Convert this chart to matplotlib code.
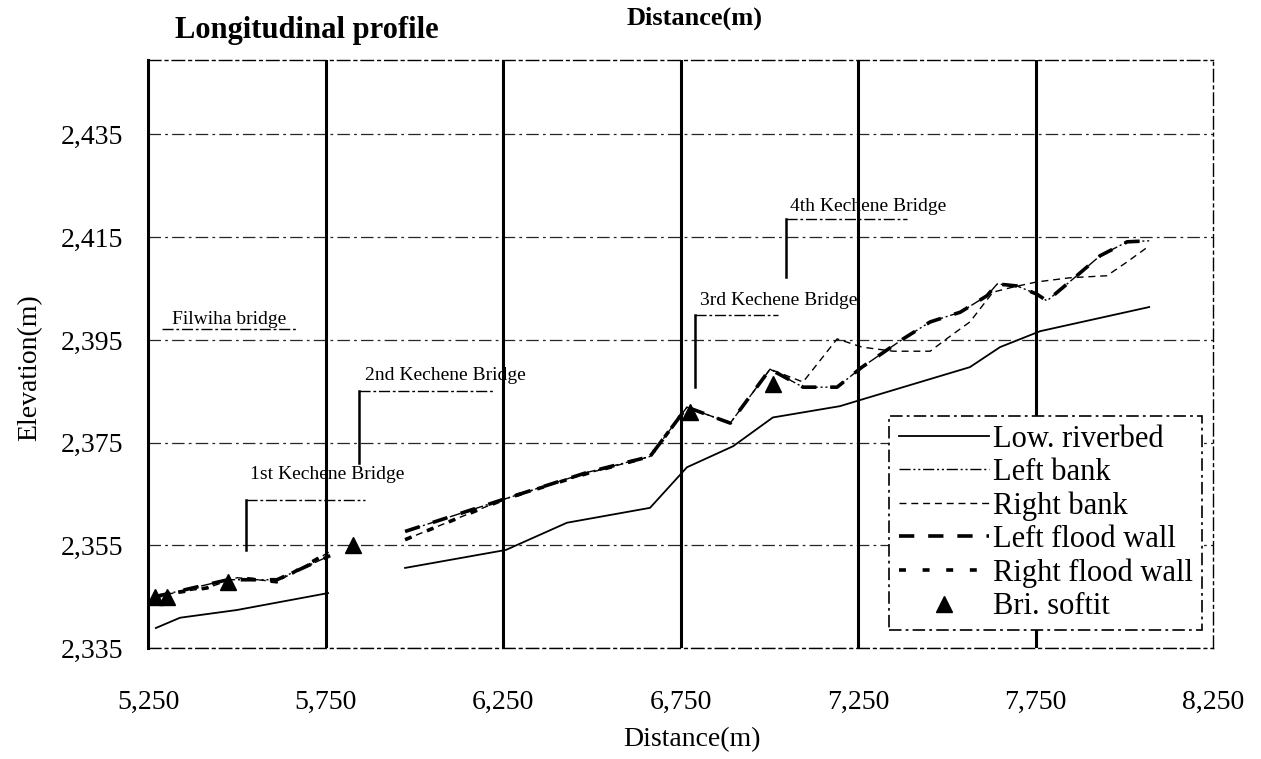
import matplotlib
matplotlib.use("Agg")
import matplotlib.pyplot as plt
import numpy as np
from matplotlib.ticker import FuncFormatter, FixedLocator

nan = np.nan

# ---------------- data ----------------
bed_station = [5272, 5340, 5500, 5757, nan, 5974, 6258, 6430, 6664, 6768, 6898,
               7010, 7199, 7261, 7565, 7650, 7763, 8070]
bed_elev = [2338.9, 2340.9, 2342.4, 2345.7, nan, 2350.6, 2354.1, 2359.4, 2362.3,
            2370.2, 2374.3, 2379.9, 2382.1, 2383.4, 2389.7, 2393.6, 2396.7, 2401.4]

left_bank_station = [5270, 5475, 5613, 5763, nan, 5974, 6258, 6487, 6664, 6768, 6890,
                     7002, 7095, 7191, 7261, 7377, 7453, 7538, 7613, 7642, 7698, 7754,
                     7782, 7856, 7932, 8008, 8070]
left_bank_elev = [2345.0, 2348.3, 2348.3, 2353.0, nan, 2357.7, 2364.1, 2369.2, 2372.3,
                  2381.9, 2378.8, 2389.3, 2385.8, 2385.8, 2389.7, 2395.2, 2398.5, 2400.4,
                  2403.6, 2405.9, 2405.5, 2403.9, 2402.6, 2406.9, 2411.4, 2414.1, 2414.3]

right_bank_station = [5270, 5321, 5416, 5501, 5613, 5763, nan, 5974, 6258, 6487, 6664,
                      6768, 6890, 7002, 7095, 7191, 7261, 7349, 7453, 7509, 7565, 7630,
                      7687, 7754, 7847, 7951, 8008, 8070]
right_bank_elev = [2345.0, 2345.7, 2346.7, 2348.7, 2347.9, 2353.8, nan, 2356.1, 2364.1,
                   2369.0, 2372.3, 2381.9, 2378.8, 2389.3, 2386.8, 2395.2, 2393.6, 2392.8,
                   2392.8, 2395.7, 2398.5, 2404.3, 2405.3, 2406.3, 2407.1, 2407.5, 2410.2,
                   2413.3]

left_wall_station = left_bank_station
left_wall_elev = left_bank_elev

right_wall_station = [5270, 5321, 5416, 5501, 5613, 5763, nan, 5974, 6258, 6487, 6664, 6768]
right_wall_elev = [2345.0, 2345.7, 2346.7, 2348.7, 2347.9, 2353.8, nan, 2356.1, 2364.1,
                   2369.0, 2372.3, 2381.9]

soffit_station = [5270, 5304, 5475, 5827, 6777, 7011]
soffit_elev = [2345.0, 2345.0, 2347.9, 2355.1, 2380.9, 2386.4]

x_ticks = [5250, 5750, 6250, 6750, 7250, 7750, 8250]
y_ticks = [2335, 2355, 2375, 2395, 2415, 2435]

series_labels = ["Low. riverbed", "Left bank", "Right bank", "Left flood wall",
                 "Right flood wall", "Bri. softit"]

bridge_names = ["Filwiha bridge", "1st Kechene Bridge", "2nd Kechene Bridge",
                "3rd Kechene Bridge", "4th Kechene Bridge"]

# ---------------- layout (annotation placement) ----------------
# (text_x, text_y, hline_x0, hline_x1, hline_y, vline_x, vline_y0, vline_y1)
bridge_layout = [
    (5318, 2398.9, 5289, 5670, 2397.1, None, None, None),
    (5537, 2368.8, 5526, 5861, 2363.9, 5526, 2363.9, 2354.1),
    (5861, 2388.0, 5844, 6222, 2385.0, 5844, 2385.0, 2371.1),
    (6805, 2402.6, 6791, 7025, 2399.8, 6791, 2399.8, 2385.8),
    (7058, 2420.9, 7047, 7388, 2418.6, 7047, 2418.6, 2407.3),
]

plt.rcParams["font.family"] = ["Liberation Serif", "DejaVu Serif"]
plt.rcParams["lines.scale_dashes"] = False

fig = plt.figure(figsize=(12.61, 7.59), dpi=100)
ax = fig.add_axes([0.1174, 0.1462, 0.8446, 0.7747])

# grid
for yv in y_ticks:
    ax.axhline(yv, color="0.15", lw=0.9, dashes=(9, 3, 2, 3), zorder=1)
for xv in x_ticks[1:-1]:
    ax.axvline(xv, color="black", lw=2.2, zorder=1)

# series
ax.plot(bed_station, bed_elev, color="black", lw=1.3, label=series_labels[0], zorder=3)
ax.plot(left_bank_station, left_bank_elev, color="black", lw=1.0,
        dashes=(8, 2, 1.5, 2, 1.5, 2), label=series_labels[1], zorder=3)
ax.plot(right_bank_station, right_bank_elev, color="black", lw=1.0,
        dashes=(5, 3.5), label=series_labels[2], zorder=3)
ax.plot(left_wall_station, left_wall_elev, color="black", lw=2.6,
        dashes=(11, 10), label=series_labels[3], zorder=4)
ax.plot(right_wall_station, right_wall_elev, color="black", lw=2.6,
        dashes=(5, 12), label=series_labels[4], zorder=4)
ax.plot(soffit_station, soffit_elev, linestyle="none", marker="^", color="black",
        markersize=11, label=series_labels[5], zorder=5)

# bridge annotations
for name, lay in zip(bridge_names, bridge_layout):
    tx, ty, hx0, hx1, hy, vx, vy0, vy1 = lay
    ax.text(tx, ty, name, fontsize=14, ha="left", va="center", zorder=6)
    ax.plot([hx0, hx1], [hy, hy], color="black", lw=1.0, dashes=(8, 2, 2, 2), zorder=6)
    if vx is not None:
        ax.plot([vx, vx], [vy0, vy1], color="black", lw=1.8, zorder=6)

# axes
ax.set_xlim(5250, 8250)
ax.set_ylim(2335, 2449.5)
ax.xaxis.set_major_locator(FixedLocator(x_ticks))
ax.yaxis.set_major_locator(FixedLocator(y_ticks))
fmt = FuncFormatter(lambda v, p: f"{int(round(v)):,}")
ax.xaxis.set_major_formatter(fmt)
ax.yaxis.set_major_formatter(fmt)
ax.tick_params(axis="both", length=0, labelsize=20)
ax.tick_params(axis="x", pad=30)
ax.tick_params(axis="y", pad=18)

ax.spines["left"].set_linewidth(2.2)
for s in ["top", "bottom", "right"]:
    ax.spines[s].set_linewidth(1.0)
    ax.spines[s].set_linestyle((0, (9, 3, 2, 3)))

leg = ax.legend(loc="lower right", bbox_to_anchor=(0.99, 0.03), borderaxespad=0,
                fontsize=22, labelspacing=0.14, handlelength=2.95, handletextpad=0.15,
                borderpad=0.3, fancybox=False, framealpha=1, edgecolor="black")
leg.get_frame().set_linewidth(1.2)
leg.get_frame().set_linestyle((0, (9, 3, 2, 3)))

fig.text(0.139, 0.960, "Longitudinal profile", fontsize=22, fontweight="bold",
         ha="left", va="center")
fig.text(0.551, 0.976, "Distance(m)", fontsize=19, fontweight="bold",
         ha="center", va="center")
fig.text(0.549, 0.025, "Distance(m)", fontsize=20, ha="center", va="center")
fig.text(0.024, 0.515, "Elevation(m)", fontsize=20, rotation=90,
         ha="center", va="center")

fig.savefig("out.png", dpi=100)
